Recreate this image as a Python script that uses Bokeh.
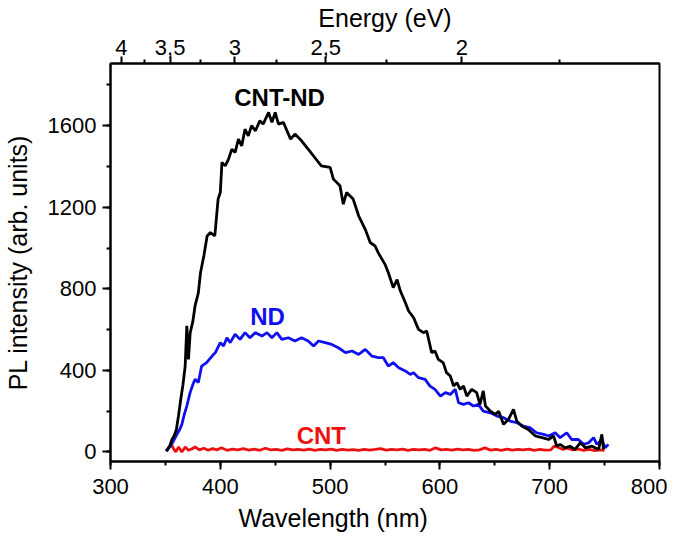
from bokeh.plotting import figure
from bokeh.models import Range1d, LinearAxis, FixedTicker, SingleIntervalTicker, Label, Title, CustomJSTickFormatter
from bokeh.embed import file_html
from bokeh.resources import INLINE

# ---------------- data ----------------
cntnd_nm = [351, 354, 356, 358, 360, 362, 364, 366, 368, 369.5, 371, 372.6, 375, 377, 380, 382, 385, 388, 391, 395,
            398, 400, 401.5, 404.5, 407.5, 410.5, 413.5, 416.5, 419.5, 422.5, 425.5, 428.5, 432, 436, 439, 444, 447,
            450, 453, 457.5, 464, 468, 474, 480, 486, 492, 500, 503, 509, 512, 515, 521, 526, 532, 536.5, 541, 544,
            550, 553, 557.5, 561, 564, 568.5, 571.5, 576, 580.5, 585, 588, 592.5, 595.5, 598.5, 603, 606, 609.5,
            612.5, 615.5, 618.5, 621.5, 624.5, 629, 633.5, 636.5, 639.5, 641.5, 646, 650.5, 653.5, 658, 662.5, 667,
            670, 674.5, 680.5, 687, 693, 699, 703.5, 706.5, 709.5, 714, 718.5, 723, 728, 732.5, 738.5, 744.5,
            747.5, 749]
cntnd_int = [4, 30, 61, 80, 110, 180, 258, 330, 420, 618, 454, 585, 640, 716, 780, 880, 961, 1059, 1076, 1059,
             1240, 1272, 1420, 1403, 1436, 1485, 1469, 1534, 1501, 1583, 1550, 1600, 1575, 1624, 1608, 1665, 1616,
             1665, 1608, 1616, 1534, 1559, 1526, 1485, 1444, 1403, 1395, 1338, 1305, 1215, 1272, 1240, 1158, 1092,
             1027, 1010, 975, 920, 880, 806, 845, 789, 733, 691, 659, 601, 585, 593, 487, 495, 454, 438, 389, 372,
             323, 340, 307, 323, 274, 307, 291, 233, 299, 225, 200, 184, 200, 135, 160, 209, 151, 127, 110, 78, 70,
             61, 78, 28, 37, 20, 28, 12, 45, 20, 28, 12, 86, 12]

nd_nm = [350.5, 354.5, 357.5, 360.5, 363, 365, 367, 369.5, 372.5, 375, 377, 380, 383, 387.5, 392.5, 395.5, 400,
         403, 406, 409, 413.5, 418, 422.5, 427, 432, 438, 442.5, 447, 451.5, 456, 462, 468, 474, 480, 485, 489.5,
         495.5, 501.5, 507.5, 514, 520, 526, 532, 538, 544, 548.5, 553, 557.5, 562.5, 568.5, 573, 576, 580.5,
         586.5, 591, 595.5, 600.5, 605, 609.5, 614, 617, 621.5, 626, 630.5, 635, 639.5, 646, 652, 658, 664, 670,
         676, 682, 688, 694.5, 699, 705, 709.5, 715.5, 720, 726, 731, 735.5, 740, 743, 747.5, 750.5, 753.5]
nd_int = [4, 28, 55, 86, 110, 135, 180, 225, 291, 330, 356, 340, 421, 438, 470, 487, 536, 519, 560, 536, 577, 552,
          585, 560, 585, 568, 585, 560, 585, 552, 560, 544, 560, 544, 519, 544, 536, 527, 511, 487, 495, 478, 503,
          470, 462, 462, 421, 438, 413, 397, 380, 389, 364, 356, 323, 307, 274, 291, 282, 307, 241, 233, 241, 225,
          233, 200, 192, 176, 168, 151, 143, 127, 119, 94, 86, 78, 94, 70, 94, 61, 61, 37, 45, 70, 37, 61, 20, 37]

cnt_nm = [351, 353, 355.5, 357.5, 359.5, 362, 365, 368, 371, 374, 377, 381, 385, 389, 393, 397, 401, 406, 411, 416,
          421, 426, 431, 436, 441, 446, 451, 456, 461, 466, 471, 476, 481, 486, 491, 496, 501, 506, 511, 516, 521,
          526, 531, 536, 541, 546, 551, 556, 561, 566, 571, 576, 581, 586, 591, 596, 601, 606, 611, 616, 621, 626,
          631, 636, 641, 646, 651, 656, 661, 666, 671, 676, 681, 686, 691, 696, 701, 704, 708, 712, 716, 721, 726,
          731, 736, 741, 746, 750]
cnt_int = [4, 20, 37, 15, 0, 24, 0, 24, 8, 14, 24, 10, 18, 8, 16, 10, 20, 8, 14, 10, 16, 9, 14, 8, 18, 10, 12, 8,
           15, 10, 12, 9, 14, 8, 12, 10, 14, 8, 12, 9, 11, 8, 13, 9, 12, 16, 9, 12, 10, 14, 8, 12, 10, 12, 8, 20,
           10, 12, 9, 14, 10, 12, 8, 10, 20, 9, 12, 8, 14, 9, 12, 10, 14, 8, 12, 9, 10, 28, 22, 12, 18, 10, 14, 8,
           12, 6, 10, 8]

energy_major = [4, 3.5, 3, 2.5, 2]
energy_labels = ["4", "3,5", "3", "2,5", "2"]
energy_minor = [3.75, 3.25, 2.75, 2.25, 1.75]

FONT = "Liberation Sans"

p = figure(frame_width=549, frame_height=398, output_backend="svg", toolbar_location=None,
           x_range=Range1d(300, 800), y_range=Range1d(-47, 1905),
           min_border_left=104, min_border_right=8, min_border_top=56, min_border_bottom=64)
p.grid.visible = False
p.outline_line_color = "black"
p.outline_line_width = 2
p.background_fill_color = "white"
p.border_fill_color = "white"


def style_axis(ax, tick_out=8, minor_out=4):
    ax.axis_line_width = 2
    ax.axis_line_color = "black"
    ax.major_tick_line_width = 2
    ax.minor_tick_line_width = 2
    ax.major_tick_in = 0
    ax.major_tick_out = tick_out
    ax.minor_tick_in = 0
    ax.minor_tick_out = minor_out
    ax.major_label_text_font = FONT
    ax.major_label_text_font_size = "22px"
    ax.major_label_text_color = "black"
    ax.axis_label_text_font = FONT
    ax.axis_label_text_font_size = "25px"
    ax.axis_label_text_font_style = "normal"
    ax.axis_label_text_color = "black"


xa = p.xaxis[0]
xa.ticker = SingleIntervalTicker(interval=100, num_minor_ticks=2)
style_axis(xa)
xa.major_label_standoff = 9

ya = p.yaxis[0]
ya.ticker = SingleIntervalTicker(interval=400, num_minor_ticks=2)
style_axis(ya)
ya.major_label_standoff = 6
ya.axis_label = "PL intensity (arb. units)"
ya.axis_label_standoff = 13

top = LinearAxis(
    ticker=FixedTicker(ticks=[1240.0 / e for e in energy_major],
                       minor_ticks=[1240.0 / e for e in energy_minor]),
    formatter=CustomJSTickFormatter(
        args=dict(pos=[1240.0 / e for e in energy_major], labs=energy_labels),
        code="""
        let b = 0;
        for (let i = 0; i < pos.length; i++) {
            if (Math.abs(pos[i] - tick) < Math.abs(pos[b] - tick)) { b = i; }
        }
        return labs[b];
        """),
    axis_label="Energy (eV)")
style_axis(top, tick_out=7, minor_out=4)
top.major_label_standoff = 2
top.axis_label_standoff = 5
p.add_layout(top, "above")

# x-axis title (placed left of centre, as in the original)
p.add_layout(Title(text="Wavelength (nm)", align="left", offset=128, standoff=10,
                   text_font=FONT, text_font_size="25px", text_font_style="normal",
                   text_color="black"), "below")

p.line(cnt_nm, cnt_int, line_color="#ee1111", line_width=2.8)
p.line(nd_nm, nd_int, line_color="#1010ee", line_width=2.8)
p.line(cntnd_nm, cntnd_int, line_color="black", line_width=2.8)

for txt, x, y, col in [("CNT-ND", 454, 1738, "black"), ("ND", 443, 663, "#1010ee"), ("CNT", 492, 79, "#ee1111")]:
    p.add_layout(Label(x=x, y=y, text=txt, text_font=FONT, text_font_size="24px", text_font_style="bold",
                       text_align="center", text_baseline="middle", text_color=col))

open("out.html", "w").write(file_html(p, INLINE))
